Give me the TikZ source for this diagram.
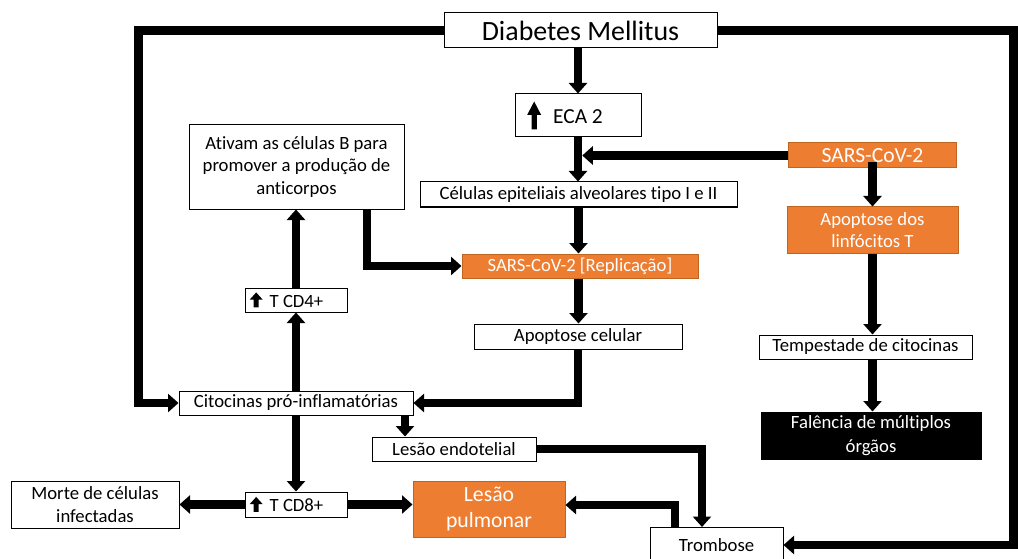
\documentclass[tikz,border=0pt]{standalone}
\usepackage{fontspec}
\setmainfont{Carlito}[Ligatures={NoCommon}]
\usetikzlibrary{arrows.meta}

\definecolor{orng}{HTML}{ED7D31}
\definecolor{orngline}{HTML}{C0651F}

% thick "increase" arrow used inside the boxes
\newcommand{\upblk}[2]{\tikz[baseline=0pt,x=#1pt,y=#2pt]\fill (-0.19,0) -- (-0.19,0.52) -- (-0.5,0.52) -- (0,1) -- (0.5,0.52) -- (0.19,0.52) -- (0.19,0) -- cycle;}

\begin{document}
\begin{tikzpicture}[x=1pt,y=-1pt,
	box/.style={draw,line width=1pt,fill=white,inner sep=0pt,align=center,
		font=\fontsize{18.7}{22.5}\selectfont},
	obox/.style={box,draw=orngline,fill=orng,text=white},
	bbox/.style={box,fill=black,text=white},
	flow/.style={line width=8.5pt,-{Triangle[width=18pt,length=10.5pt]}}]
	
	\useasboundingbox (0,0) rectangle (1018,559);
	
	% centre column
	\node[box,minimum width=273pt,minimum height=35pt,font=\fontsize{27.9}{32}\selectfont] (dm) at (580.5,30.5) {Diabetes Mellitus};
	\node[box,minimum width=126pt,minimum height=43pt,font=\fontsize{21.4}{25}\selectfont] (eca) at (578,115.5) {\raisebox{-6pt}{\upblk{14}{28}}\hspace{12pt}ECA 2\hspace{26pt}};
	\node[box,minimum width=317pt,minimum height=25pt] (cel) at (578.5,194.5) {Células epiteliais alveolares tipo I e II};
	\node[obox,minimum width=236pt,minimum height=24pt] (rep) at (580,266) {SARS-CoV-2 [Replicação]};
	\node[box,minimum width=208pt,minimum height=25pt] (apc) at (578,336.5) {Apoptose celular};
	
	% right column
	\node[obox,minimum width=168pt,minimum height=25pt,font=\fontsize{21.6}{25}\selectfont] (sars) at (872.5,155.5) {SARS-CoV-2};
	\node[obox,minimum width=171pt,minimum height=46pt] (apl) at (872.5,230) {Apoptose dos\\linfócitos T};
	\node[box,minimum width=213pt,minimum height=24pt] (temp) at (865.5,347) {Tempestade de citocinas};
	\node[bbox,minimum width=220pt,minimum height=47pt,font=\fontsize{18.7}{23.3}\selectfont] (fal) at (871,435.5) {Falência de múltiplos\\órgãos};
	
	% left column
	\node[box,minimum width=215pt,minimum height=84pt] (ativ) at (296.5,167) {Ativam as células B para\\promover a produção de\\anticorpos};
	\node[box,minimum width=102pt,minimum height=24pt] (cd4) at (296,300) {\upblk{13}{15}\hspace{7pt}T CD4+\hspace{19pt}};
	\node[box,minimum width=234pt,minimum height=24pt] (cit) at (296,403) {Citocinas pró-inflamatórias};
	\node[box,minimum width=102pt,minimum height=25pt] (cd8) at (296,504.5) {\upblk{13}{15}\hspace{7pt}T CD8+\hspace{19pt}};
	\node[box,minimum width=168pt,minimum height=47pt] (morte) at (95,504.5) {Morte de células\\infectadas};
	
	% bottom
	\node[box,minimum width=164pt,minimum height=24pt] (led) at (454,449) {Lesão endotelial};
	\node[obox,minimum width=152pt,minimum height=56pt,font=\fontsize{21.7}{26.7}\selectfont] (lp) at (489,509) {Lesão\\pulmonar};
	\node[box,minimum width=133pt,minimum height=35pt] (trom) at (716.5,545) {Trombose};
	
	\coordinate (lft) at (138.5,403);
	\coordinate (rgt) at (1013.5,545);
	\coordinate (cit2) at ([xshift=109pt]cit.south);
	\coordinate (t1) at ([xshift=-14.5pt]trom.north);
	\coordinate (t2) at ([xshift=-41.5pt]trom.north);
	
	% Diabetes Mellitus outputs
	\draw[flow] (dm.west) -| (lft) -- (cit.west);
	\draw[flow] (dm.east) -| (rgt) -- (trom.east);
	\draw[flow] (eca.north |- dm.south) -- (eca.north);
	
	% centre column
	\draw[flow] (eca.south) -- (eca.south |- cel.north);
	\draw[flow,shorten >=4.25pt] (sars.west) -- (sars.west -| eca.south);
	\draw[flow] (cel.south) -- (cel.south |- rep.north);
	\draw[flow] (cel.south |- rep.south) -- (cel.south |- apc.north);
	\draw[flow] (apc.south) |- (cit.east);
	
	% right column
	\draw[flow] ([yshift=-6.5pt]sars.center) -- (apl.north);
	\draw[flow] (apl.south) -- (apl.south |- temp.north);
	\draw[flow] (apl.south |- temp.south) -- (apl.south |- fal.north);
	
	% left column
	\draw[flow] ([xshift=70.5pt]ativ.south) |- (rep.west);
	\draw[flow] (cit.north) -- (cd4.south);
	\draw[flow] (cd4.north) -- (cd4.north |- ativ.south);
	\draw[flow] (cit.south) -- (cd8.north);
	\draw[flow] (cd8.west) -- (morte.east);
	\draw[flow] (cd8.east) -- (cd8.east -| lp.west);
	
	% lesions and thrombosis
	\draw[flow] (cit2) -- (cit2 |- led.north);
	\draw[flow] (led.east) -| (t1);
	\draw[flow] (t2) |- ([yshift=4pt]lp.east);
\end{tikzpicture}
\end{document}
